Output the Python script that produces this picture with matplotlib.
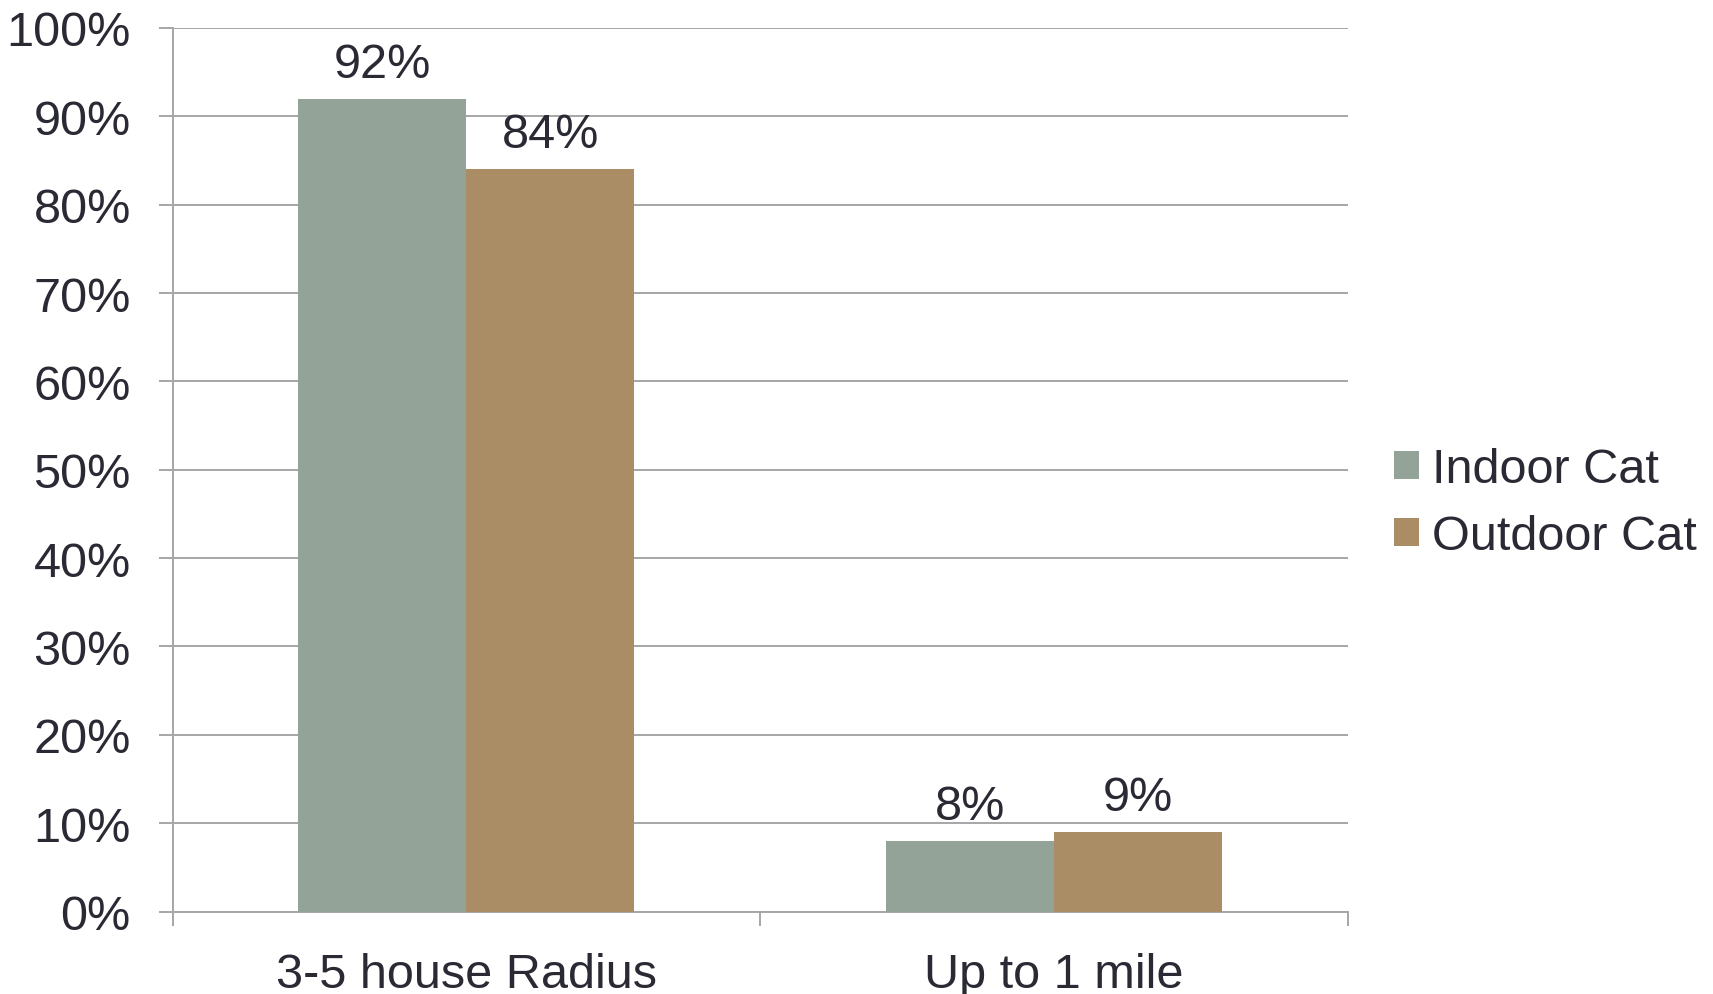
import matplotlib
matplotlib.use("Agg")
import matplotlib.pyplot as plt
import numpy as np

categories = ["3-5 house Radius", "Up to 1 mile"]
series_names = ["Indoor Cat", "Outdoor Cat"]
indoor = [92, 8]
outdoor = [84, 9]
yticks = [0, 10, 20, 30, 40, 50, 60, 70, 80, 90, 100]

colors = ["#93A398", "#AB8D65"]
text_color = "#2A2A35"
grid_color = "#A6A6A6"

plt.rcParams['font.family'] = ['Liberation Sans', 'DejaVu Sans']

fig = plt.figure(figsize=(17.13, 9.95), dpi=100)
ax = fig.add_axes([172.5 / 1713, (995 - 912.5) / 995, (1348 - 172.5) / 1713, (912.5 - 29) / 995])

FS = 35
x = np.arange(len(categories)) + 0.5
w = 1 / 3.5
vals = [indoor, outdoor]
for i, (name, v) in enumerate(zip(series_names, vals)):
    pos = x + (i - 0.5) * w
    bars = ax.bar(pos, v, width=w, color=colors[i], label=name, zorder=3, linewidth=0)
    for b, val in zip(bars, v):
        ax.annotate(f"{val}%", (b.get_x() + b.get_width() / 2, val),
                    xytext=(0, 12), textcoords="offset pixels",
                    ha="center", va="bottom", fontsize=FS, color=text_color)

ax.set_xlim(0, len(categories))
ax.set_ylim(0, 100)
ax.set_yticks(yticks)
ax.set_yticklabels([f"{t}%" for t in yticks])
ax.yaxis.grid(True, color=grid_color, linewidth=1.4, zorder=0)
ax.set_axisbelow(True)

ax.set_xticks(x)
ax.set_xticklabels(categories)
ax.set_xticks(np.arange(len(categories) + 1), minor=True)
ax.tick_params(axis="x", which="major", length=0, pad=29, labelsize=FS, labelcolor=text_color)
ax.tick_params(axis="x", which="minor", length=10, width=1.4, color=grid_color, direction="out")
ax.tick_params(axis="y", length=10, width=1.4, color=grid_color, labelsize=FS, labelcolor=text_color, pad=20)

for s in ["top", "right"]:
    ax.spines[s].set_visible(False)
for s in ["left", "bottom"]:
    ax.spines[s].set_color(grid_color)
    ax.spines[s].set_linewidth(1.4)

leg = ax.legend(loc="center left", bbox_to_anchor=(1.023, 0.462), frameon=False,
                fontsize=FS, handlelength=0.5, handleheight=0.5, handletextpad=0.28,
                labelspacing=0.45, borderaxespad=0, labelcolor=text_color)

fig.savefig("out.png", dpi=100)
